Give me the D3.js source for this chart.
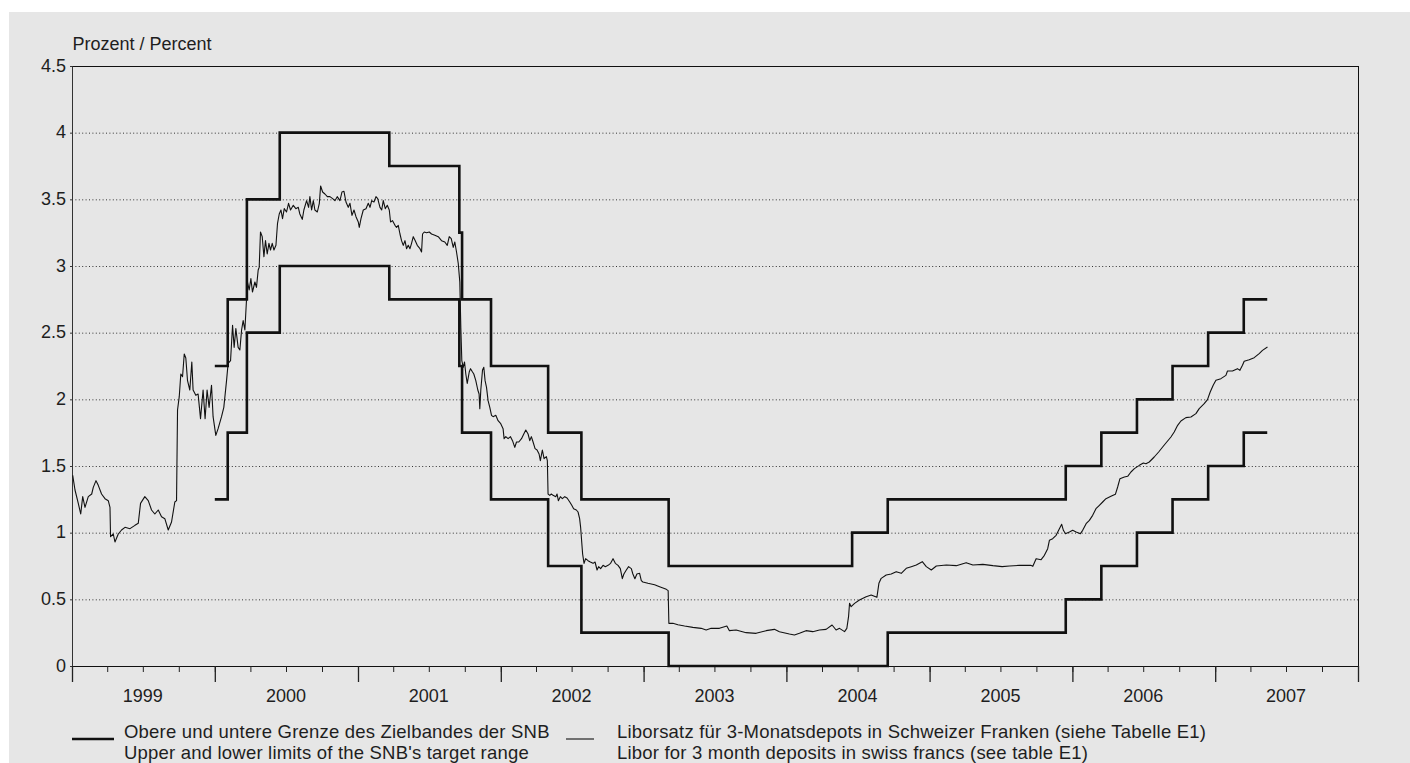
<!DOCTYPE html>
<html>
<head>
<meta charset="utf-8">
<script src="https://cdn.jsdelivr.net/npm/d3@7"></script>
<style>
  body { margin: 0; background: #fff; }
  text { font-family: "Liberation Sans", Arial, Helvetica, sans-serif; fill: #1e1e1e; }
</style>
</head>
<body>
<svg id="chart" width="1410" height="763"></svg>
<script>
// ---------------- DATA ----------------
const yTicks = [0, 0.5, 1, 1.5, 2, 2.5, 3, 3.5, 4, 4.5];
const yearLabels = ["1999", "2000", "2001", "2002", "2003", "2004", "2005", "2006", "2007"];

// SNB target range: change dates, lower and upper limits (last entry = end of series)
const bandDates = ["2000-01-01", "2000-02-03", "2000-03-23", "2000-06-15", "2001-03-22",
  "2001-09-17", "2001-09-24", "2001-12-07", "2002-05-02", "2002-07-26", "2003-03-06",
  "2004-06-17", "2004-09-16", "2005-12-15", "2006-03-16", "2006-06-15", "2006-09-14",
  "2006-12-14", "2007-03-15", "2007-05-14"];
const bandLower = [1.25, 1.75, 2.5, 3.0, 2.75, 2.25, 1.75, 1.25, 0.75, 0.25, 0,
  0, 0.25, 0.5, 0.75, 1.0, 1.25, 1.5, 1.75, 1.75];
const bandUpper = [2.25, 2.75, 3.5, 4.0, 3.75, 3.25, 2.75, 2.25, 1.75, 1.25, 0.75,
  1.0, 1.25, 1.5, 1.75, 2.0, 2.25, 2.5, 2.75, 2.75];

// 3-month CHF Libor (time as decimal year, value in percent)
const liborTime = [
  1999.005,1999.021,1999.044,1999.061,1999.075,1999.091,1999.114,1999.138,1999.149,1999.168,
  1999.184,1999.207,1999.231,1999.254,1999.266,1999.270,1999.289,1999.301,1999.324,1999.347,
  1999.371,1999.406,1999.441,1999.464,1999.480,1999.510,1999.534,1999.557,1999.580,1999.604,
  1999.627,1999.650,1999.674,1999.697,1999.720,1999.732,1999.739,1999.751,1999.762,1999.774,
  1999.786,1999.797,1999.809,1999.825,1999.839,1999.848,1999.867,1999.883,1999.900,1999.918,
  1999.932,1999.946,1999.960,1999.977,1999.988,2000.007,2000.023,2000.047,2000.063,2000.082,
  2000.093,2000.110,2000.124,2000.135,2000.147,2000.163,2000.175,2000.187,2000.198,2000.210,
  2000.221,2000.226,2000.240,2000.252,2000.263,2000.280,2000.291,2000.303,2000.310,2000.319,
  2000.331,2000.343,2000.354,2000.366,2000.378,2000.389,2000.401,2000.413,2000.427,2000.438,
  2000.450,2000.462,2000.473,2000.485,2000.501,2000.515,2000.529,2000.548,2000.566,2000.583,
  2000.594,2000.611,2000.622,2000.641,2000.655,2000.664,2000.676,2000.688,2000.699,2000.716,
  2000.730,2000.739,2000.753,2000.769,2000.786,2000.804,2000.823,2000.839,2000.855,2000.874,
  2000.888,2000.902,2000.916,2000.932,2000.944,2000.958,2000.972,2000.986,2001.002,2001.009,
  2001.021,2001.037,2001.056,2001.072,2001.084,2001.096,2001.112,2001.126,2001.138,2001.154,
  2001.166,2001.177,2001.191,2001.205,2001.219,2001.228,2001.242,2001.259,2001.270,2001.282,
  2001.294,2001.305,2001.317,2001.329,2001.340,2001.352,2001.364,2001.375,2001.387,2001.401,
  2001.415,2001.434,2001.445,2001.452,2001.464,2001.480,2001.499,2001.515,2001.538,2001.562,
  2001.585,2001.608,2001.625,2001.639,2001.653,2001.667,2001.678,2001.690,2001.702,2001.713,
  2001.720,2001.727,2001.737,2001.746,2001.755,2001.765,2001.779,2001.788,2001.802,2001.811,
  2001.825,2001.839,2001.848,2001.853,2001.860,2001.872,2001.881,2001.890,2001.900,2001.911,
  2001.923,2001.935,2001.946,2001.965,2001.981,2001.998,2002.016,2002.023,2002.035,2002.051,
  2002.068,2002.082,2002.098,2002.110,2002.126,2002.145,2002.161,2002.175,2002.191,2002.203,
  2002.214,2002.226,2002.240,2002.254,2002.268,2002.277,2002.291,2002.303,2002.319,2002.326,
  2002.331,2002.343,2002.354,2002.366,2002.385,2002.394,2002.403,2002.417,2002.431,2002.448,
  2002.464,2002.483,2002.497,2002.510,2002.529,2002.541,2002.552,2002.559,2002.566,2002.573,
  2002.583,2002.594,2002.611,2002.627,2002.646,2002.660,2002.674,2002.685,2002.699,2002.716,
  2002.732,2002.751,2002.769,2002.786,2002.802,2002.821,2002.837,2002.851,2002.862,2002.879,
  2002.895,2002.914,2002.925,2002.939,2002.953,2002.972,2002.984,2002.995,2003.030,2003.077,
  2003.112,2003.159,2003.172,2003.177,2003.205,2003.240,2003.287,2003.345,2003.403,2003.438,
  2003.473,2003.531,2003.583,2003.601,2003.648,2003.718,2003.788,2003.858,2003.916,2003.951,
  2004.021,2004.056,2004.091,2004.137,2004.184,2004.231,2004.277,2004.319,2004.347,2004.371,
  2004.406,2004.422,2004.434,2004.441,2004.452,2004.476,2004.510,2004.557,2004.592,2004.632,
  2004.646,2004.662,2004.697,2004.732,2004.767,2004.802,2004.837,2004.872,2004.907,2004.949,
  2004.977,2005.012,2005.047,2005.117,2005.187,2005.256,2005.303,2005.373,2005.443,2005.508,
  2005.559,2005.629,2005.708,2005.723,2005.746,2005.781,2005.804,2005.827,2005.839,2005.862,
  2005.886,2005.909,2005.925,2005.937,2005.951,2005.979,2006.002,2006.026,2006.056,2006.072,
  2006.096,2006.119,2006.142,2006.165,2006.189,2006.212,2006.235,2006.270,2006.301,2006.317,
  2006.333,2006.364,2006.387,2006.410,2006.434,2006.469,2006.497,2006.515,2006.538,2006.573,
  2006.604,2006.632,2006.655,2006.690,2006.713,2006.737,2006.760,2006.795,2006.830,2006.865,
  2006.888,2006.923,2006.946,2006.965,2006.986,2007.005,2007.040,2007.075,2007.086,2007.121,
  2007.156,2007.173,2007.191,2007.203,2007.238,2007.273,2007.308,2007.331,2007.366];
const liborValue = [
  1.43,1.32,1.22,1.14,1.27,1.19,1.27,1.29,1.34,1.39,
  1.355,1.29,1.255,1.24,1.19,0.97,0.99,0.93,0.99,1.02,
  1.04,1.03,1.055,1.07,1.22,1.27,1.24,1.17,1.14,1.17,
  1.12,1.105,1.02,1.08,1.23,1.24,1.92,2.02,2.19,2.17,
  2.34,2.31,2.14,2.07,2.28,2.07,2.03,2.04,1.855,2.07,
  1.855,2.07,1.94,2.105,1.87,1.73,1.78,1.87,1.94,2.14,
  2.27,2.29,2.555,2.39,2.53,2.39,2.37,2.52,2.59,2.52,
  2.74,2.89,2.82,2.905,2.805,2.88,2.84,2.97,2.99,3.255,
  3.22,3.07,3.19,3.09,3.17,3.12,3.17,3.12,3.155,3.32,
  3.39,3.42,3.355,3.43,3.405,3.47,3.42,3.455,3.43,3.44,
  3.39,3.35,3.42,3.49,3.44,3.52,3.42,3.49,3.42,3.405,
  3.47,3.60,3.555,3.54,3.52,3.52,3.505,3.49,3.52,3.49,
  3.555,3.56,3.48,3.44,3.47,3.38,3.42,3.37,3.33,3.29,
  3.355,3.42,3.43,3.47,3.44,3.49,3.48,3.52,3.505,3.44,
  3.42,3.49,3.43,3.455,3.42,3.33,3.34,3.305,3.29,3.305,
  3.24,3.19,3.155,3.19,3.13,3.155,3.13,3.17,3.22,3.19,
  3.155,3.13,3.105,3.24,3.255,3.25,3.255,3.24,3.23,3.22,
  3.19,3.18,3.155,3.22,3.205,3.14,3.18,3.105,3.02,2.88,
  2.54,2.29,2.24,2.28,2.19,2.12,2.205,2.23,2.205,2.19,
  2.14,2.07,2.04,1.93,2.07,2.22,2.24,2.14,2.09,1.99,
  1.94,1.88,1.87,1.88,1.84,1.82,1.78,1.705,1.72,1.705,
  1.72,1.69,1.64,1.68,1.68,1.705,1.74,1.77,1.74,1.69,
  1.72,1.68,1.63,1.62,1.59,1.54,1.62,1.555,1.57,1.54,
  1.29,1.28,1.29,1.28,1.27,1.29,1.24,1.27,1.255,1.27,
  1.26,1.23,1.205,1.18,1.17,1.155,1.105,1.04,0.94,0.84,
  0.77,0.805,0.79,0.78,0.77,0.78,0.72,0.745,0.73,0.755,
  0.745,0.755,0.77,0.805,0.77,0.755,0.73,0.655,0.69,0.72,
  0.745,0.73,0.69,0.655,0.69,0.695,0.64,0.63,0.62,0.61,
  0.595,0.575,0.565,0.32,0.32,0.31,0.30,0.29,0.2825,0.27,
  0.2825,0.2825,0.30,0.265,0.27,0.25,0.245,0.265,0.275,0.2575,
  0.24,0.2325,0.245,0.265,0.2575,0.27,0.275,0.3075,0.27,0.2825,
  0.2575,0.2825,0.37,0.47,0.445,0.47,0.495,0.52,0.5325,0.515,
  0.62,0.6575,0.6825,0.69,0.7075,0.695,0.7325,0.745,0.7575,0.7825,
  0.745,0.72,0.75,0.7575,0.7525,0.775,0.7575,0.7625,0.7525,0.745,
  0.75,0.755,0.755,0.7475,0.805,0.7975,0.83,0.88,0.9425,0.955,
  0.98,1.03,1.0625,1.0175,0.9925,1.005,1.0175,1.005,0.9925,1.0175,
  1.0675,1.0925,1.13,1.18,1.205,1.23,1.255,1.2725,1.2875,1.3425,
  1.405,1.4175,1.4225,1.455,1.48,1.505,1.5225,1.5175,1.53,1.5675,
  1.605,1.6425,1.6725,1.7175,1.755,1.805,1.8375,1.8625,1.8675,1.8925,
  1.93,1.9675,1.9975,2.055,2.105,2.1425,2.155,2.18,2.2125,2.2125,
  2.23,2.2175,2.255,2.285,2.2975,2.3125,2.3425,2.3675,2.3925];

const yLabel = "Prozent / Percent";
const legendBand = ["Obere und untere Grenze des Zielbandes der SNB", "Upper and lower limits of the SNB's target range"];
const legendLibor = ["Liborsatz für 3-Monatsdepots in Schweizer Franken (siehe Tabelle E1)", "Libor for 3 month deposits in swiss francs (see table E1)"];

// ---------------- CHART ----------------
const svg = d3.select("#chart");
const W = 1410, H = 763;
const m = { left: 72, right: 1358, top: 66, bottom: 666 };

svg.append("rect").attr("x", 9).attr("y", 12).attr("width", W - 9).attr("height", H - 12).attr("fill", "#e6e6e6");

const x = d3.scaleTime().domain([new Date(1999, 0, 1), new Date(2008, 0, 1)]).range([m.left, m.right]);
const y = d3.scaleLinear().domain([0, 4.5]).range([m.bottom, m.top]);

function decYear(t) {
  const yr = Math.floor(t);
  const a = new Date(yr, 0, 1), b = new Date(yr + 1, 0, 1);
  return new Date(+a + (t - yr) * (b - a));
}
const parse = d3.timeParse("%Y-%m-%d");

// gridlines
svg.append("g").selectAll("line").data(yTicks.filter(v => v > 0 && v < 4.5)).join("line")
  .attr("x1", m.left).attr("x2", m.right)
  .attr("y1", d => y(d) + 0.5).attr("y2", d => y(d) + 0.5)
  .attr("stroke", "#333").attr("stroke-width", 1).attr("stroke-dasharray", "1,2.4");

// top & right frame
svg.append("line").attr("x1", m.left).attr("x2", m.right).attr("y1", y(4.5) + 0.5).attr("y2", y(4.5) + 0.5)
  .attr("stroke", "#111").attr("stroke-width", 1);
svg.append("line").attr("x1", m.right + 0.5).attr("x2", m.right + 0.5).attr("y1", y(4.5)).attr("y2", m.bottom)
  .attr("stroke", "#111").attr("stroke-width", 1);

// y axis
const yAxis = svg.append("g").attr("transform", `translate(${m.left},0)`)
  .call(d3.axisLeft(y).tickValues(yTicks).tickSize(2).tickPadding(4).tickFormat(d => String(d)));
yAxis.select(".domain").attr("stroke", "#333");
yAxis.selectAll(".tick line").attr("stroke", "#333");
yAxis.selectAll("text").attr("font-size", 18).attr("font-family", null).attr("dy", "0.28em").style("fill", "#1e1e1e");

// x axis: quarter ticks + year ticks
const xq = svg.append("g").attr("transform", `translate(0,${m.bottom})`)
  .call(d3.axisBottom(x).ticks(d3.timeMonth.every(3)).tickSize(6).tickSizeOuter(0).tickFormat(""));
xq.select(".domain").attr("stroke", "#111");
xq.selectAll(".tick line").attr("stroke", "#222");
const xy = svg.append("g").attr("transform", `translate(0,${m.bottom})`)
  .call(d3.axisBottom(x).ticks(d3.timeYear.every(1)).tickSize(16).tickFormat(""));
xy.select(".domain").remove();
xy.selectAll(".tick line").attr("stroke", "#222").attr("stroke-width", 1.3);

svg.append("g").selectAll("text").data(yearLabels).join("text")
  .attr("x", d => x(new Date(+d, 6, 1)))
  .attr("y", 702)
  .attr("text-anchor", "middle").attr("font-size", 18).text(d => d);

// y label
svg.append("text").attr("x", 72.5).attr("y", 50).attr("font-size", 18).text(yLabel);

// target band
const band = bandDates.map((d, i) => ({ date: parse(d), lo: bandLower[i], hi: bandUpper[i] }));
const lineLo = d3.line().x(d => x(d.date)).y(d => y(d.lo)).curve(d3.curveStepAfter);
const lineHi = d3.line().x(d => x(d.date)).y(d => y(d.hi)).curve(d3.curveStepAfter);
[lineLo, lineHi].forEach(gen => {
  svg.append("path").datum(band).attr("d", gen)
    .attr("fill", "none").attr("stroke", "#111").attr("stroke-width", 2.6)
    .attr("stroke-linejoin", "miter").attr("stroke-linecap", "butt");
});

// libor
const libor = liborTime.map((t, i) => ({ date: decYear(t), v: liborValue[i] }));
svg.append("path").datum(libor)
  .attr("d", d3.line().x(d => x(d.date)).y(d => y(d.v)))
  .attr("fill", "none").attr("stroke", "#111").attr("stroke-width", 1.1).attr("stroke-linejoin", "round");

// legend
const lg = svg.append("g");
const legY = 738, legStep = 21;
lg.append("line").attr("x1", 72).attr("x2", 114).attr("y1", legY + 1).attr("y2", legY + 1)
  .attr("stroke", "#111").attr("stroke-width", 2.6);
legendBand.forEach((t, i) => lg.append("text").attr("x", 124).attr("y", legY + i * legStep)
  .attr("font-size", 18.5).attr("letter-spacing", 0.2).text(t));
lg.append("line").attr("x1", 566).attr("x2", 594).attr("y1", legY + 1).attr("y2", legY + 1)
  .attr("stroke", "#111").attr("stroke-width", 1.1);
legendLibor.forEach((t, i) => lg.append("text").attr("x", 617).attr("y", legY + i * legStep)
  .attr("font-size", 18.5).attr("letter-spacing", 0.2).text(t));
</script>
</body>
</html>
